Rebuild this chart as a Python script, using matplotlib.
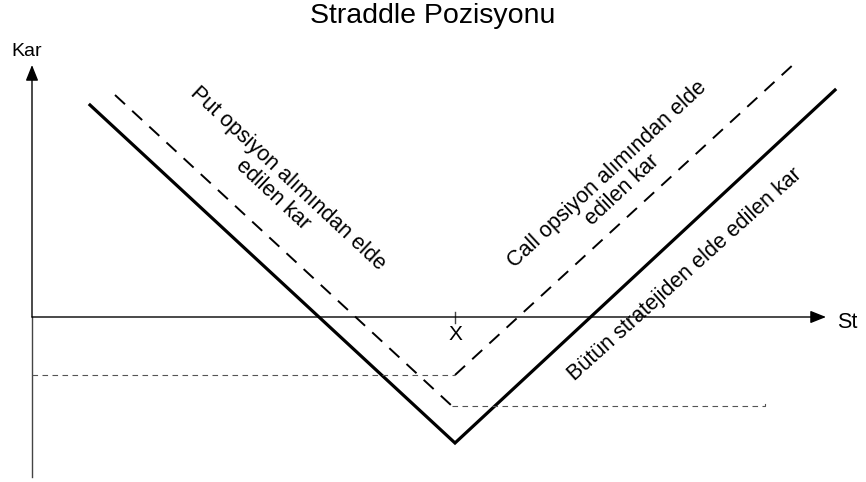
import matplotlib.pyplot as plt

plt.rcParams['font.family'] = ['Liberation Sans', 'DejaVu Sans']

# kar profilleri (St, Kar)
st_toplam = [90, 455, 835]
kar_toplam = [212, -126, 227]

st_put = [115, 452]
kar_put = [222, -89]
st_put_duz = [452, 765, 765]
kar_put_duz = [-89, -89, -85]

st_call = [455, 795]
kar_call = [-58, 254]
st_call_duz = [32, 455]
kar_call_duz = [-58, -58]

X = 455

fig = plt.figure(figsize=(8.66, 4.82), dpi=100)
ax = fig.add_axes([0, 0, 1, 1])
ax.set_xlim(0, 866)
ax.set_ylim(-165, 317)
ax.axis('off')

eksen = '#444444'
# eksenler
ax.annotate('', xy=(826, 0), xytext=(32, 0),
            arrowprops=dict(arrowstyle='-|>,head_length=0.95,head_width=0.38',
                            color='black', lw=1.0, shrinkA=0, shrinkB=0))
ax.plot([32, 32], [-160, 0], color=eksen, lw=1.0)
ax.annotate('', xy=(32, 252), xytext=(32, 0),
            arrowprops=dict(arrowstyle='-|>,head_length=0.95,head_width=0.38',
                            color='black', lw=1.0, shrinkA=0, shrinkB=0))
ax.plot([X, X], [5, -6], color=eksen, lw=1.0)

ax.text(27, 266, 'Kar', fontsize=14, ha='center', va='center')
ax.text(837, -5, 'St', fontsize=15.5, ha='left', va='center')
ax.text(X, -18, 'X', fontsize=15, ha='center', va='center')

# çizgiler
ax.plot(st_toplam, kar_toplam, color='black', lw=2.3, solid_joinstyle='miter')
ax.plot(st_put, kar_put, color='black', lw=1.4, dashes=(7, 5))
ax.plot(st_call, kar_call, color='black', lw=1.4, dashes=(7, 5))
ax.plot(st_put_duz, kar_put_duz, color='#555555', lw=0.8, dashes=(5, 4))
ax.plot(st_call_duz, kar_call_duz, color='#555555', lw=0.8, dashes=(5, 4))

ax.text(280, 130, 'Put opsiyon alımından elde\nedilen kar', fontsize=15.5,
        rotation=-43, ha='center', va='center', rotation_mode='anchor',
        multialignment='center', linespacing=1.05)
ax.text(615, 135, 'Call opsiyon alımından elde\nedilen kar', fontsize=15.5,
        rotation=43, ha='center', va='center', rotation_mode='anchor',
        multialignment='center', linespacing=1.05)
ax.text(685, 42, 'Bütün stratejiden elde edilen kar', fontsize=15.5,
        rotation=42, ha='center', va='center', rotation_mode='anchor')

fig.text(0.5, 1 - 16 / 482, 'Straddle Pozisyonu', fontsize=20.5,
         ha='center', va='center')

fig.savefig('out.png', dpi=100, facecolor='white')
